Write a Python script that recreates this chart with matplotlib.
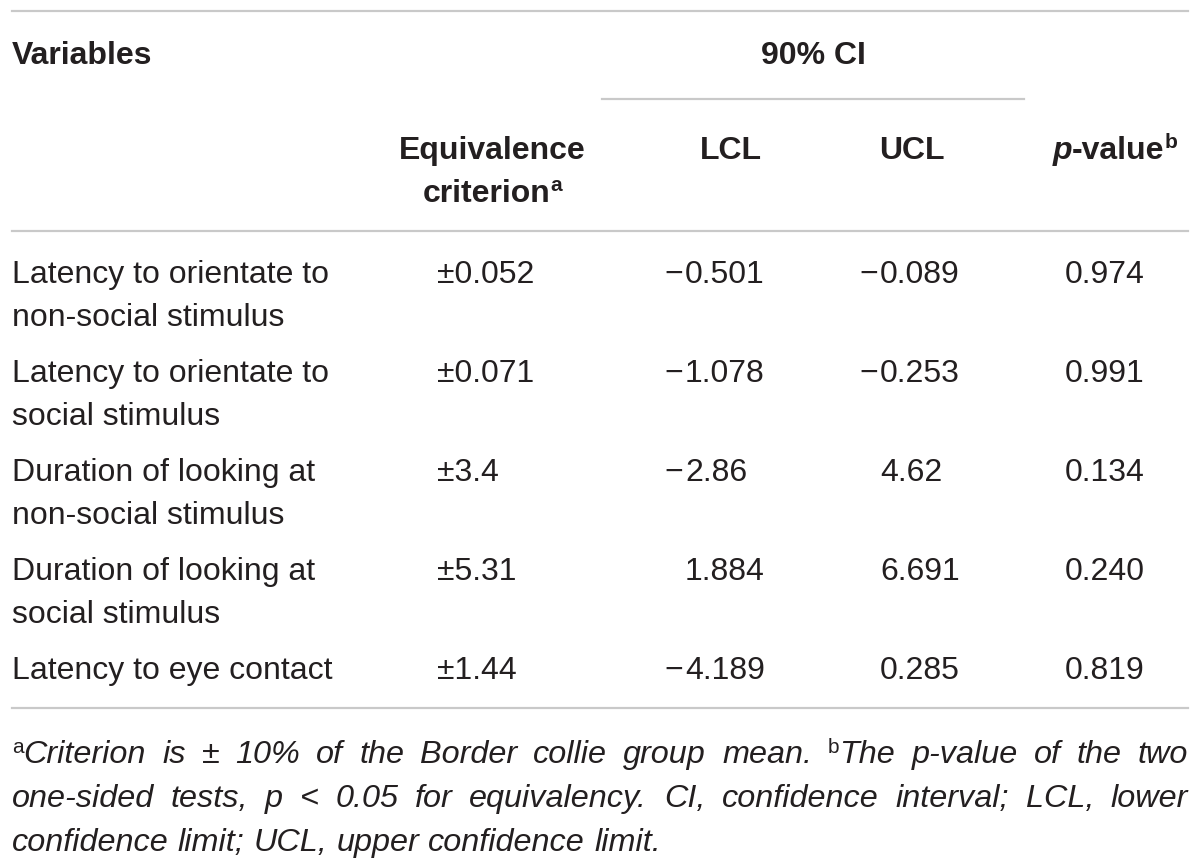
import matplotlib
matplotlib.use("Agg")
import matplotlib.pyplot as plt
from matplotlib.lines import Line2D

W, H = 1200, 862
TXT = "#231f20"
RULE = "#c9c9c9"
FONT = "Liberation Sans"

variables = [
    ["Latency to orientate to", "non-social stimulus"],
    ["Latency to orientate to", "social stimulus"],
    ["Duration of looking at", "non-social stimulus"],
    ["Duration of looking at", "social stimulus"],
    ["Latency to eye contact"],
]
criterion = ["±0.052", "±0.071", "±3.4", "±5.31", "±1.44"]
lcl = ["−0.501", "−1.078", "−2.86", "1.884", "−4.189"]
ucl = ["−0.089", "−0.253", "4.62", "6.691", "0.285"]
pvalues = ["0.974", "0.991", "0.134", "0.240", "0.819"]

foot_lines = [
    [("a", "sup"), ("Criterion", "it"), ("is", "it"), ("±", "it"), ("10%", "it"), ("of", "it"),
     ("the", "it"), ("Border", "it"), ("collie", "it"), ("group", "it"), ("mean.", "it"),
     ("b", "sup"), ("The", "it"), ("p-value", "it"), ("of", "it"), ("the", "it"), ("two", "it")],
    "one-sided tests, p < 0.05 for equivalency. CI, confidence interval; LCL, lower",
    "confidence limit; UCL, upper confidence limit.",
]

fig = plt.figure(figsize=(W / 100, H / 100), dpi=100)
fig.patch.set_facecolor("white")
renderer = fig.canvas.get_renderer()

BODY = 23
FOOT = 23.3


def fy(y):
    return 1 - y / H


def put(x, y, s, size=BODY, weight="normal", style="normal", ha="left"):
    return fig.text(x / W, fy(y), s, fontsize=size, fontweight=weight, fontstyle=style,
                    ha=ha, va="baseline", color=TXT, family=FONT)


def width(t):
    return t.get_window_extent(renderer).width


def put_runs(x, y, runs, ha="left"):
    # runs: list of (text, size, weight, style, raise_px)
    texts = []
    for s, size, weight, style, rise in runs:
        texts.append((put(0, 0, s, size, weight, style), rise))
    total = sum(width(t) for t, _ in texts)
    if ha == "center":
        x -= total / 2
    cur = x
    for t, rise in texts:
        t.set_position((cur / W, fy(y - rise)))
        cur += width(t)


def hline(x0, x1, y):
    fig.add_artist(Line2D([x0 / W, x1 / W], [fy(y), fy(y)], color=RULE, lw=1.6))


# rules
hline(12, 1188, 12)
hline(602, 1024, 100)
hline(12, 1188, 232)
hline(12, 1188, 709)

# header
put(12, 64, "Variables", weight="bold")
put(813, 64, "90% CI", weight="bold", ha="center")
put(492, 159, "Equivalence", weight="bold", ha="center")
put_runs(492, 202, [("criterion", BODY, "bold", "normal", 0),
                    ("a", 15, "bold", "normal", 11)], ha="center")
put(731, 159, "LCL", weight="bold", ha="center")
put(912, 159, "UCL", weight="bold", ha="center")
put_runs(1115, 159, [("p", BODY, "bold", "italic", 0),
                     ("-value", BODY, "bold", "normal", 0),
                     ("b", 15, "bold", "normal", 11)], ha="center")

# body rows
row_base = [283, 382, 481, 580, 679]
line_gap = 43


def put_signed(x_digits, y, s):
    # minus sign hangs to the left of the digit column
    if s.startswith("−"):
        put(x_digits - 2, y, "−", ha="right")
        s = s[1:]
    put(x_digits, y, s)


for i, y in enumerate(row_base):
    for k, line in enumerate(variables[i]):
        put(12, y + k * line_gap, line)
    put(437, y, criterion[i])
    put_signed(685, y, lcl[i])
    put_signed(880, y, ucl[i])
    put(1105, y, pvalues[i], ha="center")


# footnote, justified like the journal layout
def word_runs(item):
    if isinstance(item, str):
        return [[(w, FOOT, "normal", "italic", 0)] for w in item.split(" ")]
    words = []
    pending_sup = None
    for s, kind in item:
        if kind == "sup":
            pending_sup = s
            continue
        w = []
        if pending_sup:
            w.append((pending_sup, 15, "normal", "normal", 10))
            pending_sup = None
        w.append((s, FOOT, "normal", "italic", 0))
        words.append(w)
    return words


def measure_word(runs):
    total = 0
    for s, size, weight, style, rise in runs:
        t = put(0, 0, s, size, weight, style)
        total += width(t)
        t.remove()
    return total


foot_base = [763, 807, 851]
x_left, x_right = 12, 1188
for li, item in enumerate(foot_lines):
    words = word_runs(item)
    widths = [measure_word(w) for w in words]
    if li < len(foot_lines) - 1:
        gap = (x_right - x_left - sum(widths)) / (len(words) - 1)
    else:
        gap = measure_word([("i", FOOT, "normal", "italic", 0)]) * 1.25
    cur = x_left
    for w, wd in zip(words, widths):
        put_runs(cur, foot_base[li], w)
        cur += wd + gap

fig.savefig("out.png", dpi=100, facecolor="white")
